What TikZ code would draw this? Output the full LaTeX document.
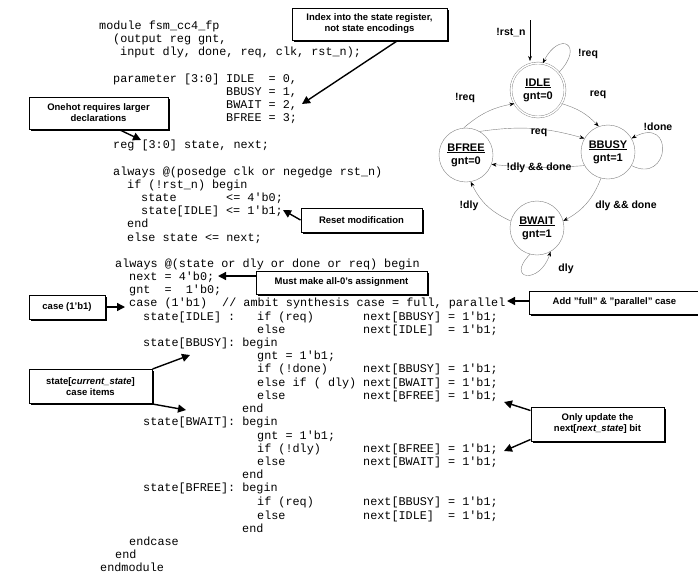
\documentclass[tikz,border=0pt]{standalone}
\usepackage{fontspec}
\setmainfont{Liberation Sans}
\setmonofont{Liberation Mono}
\usetikzlibrary{arrows.meta,shadows}
\begin{document}
\begin{tikzpicture}[x=1pt,y=-1pt,
 code/.style={anchor=base west,inner sep=0pt,font=\fontsize{11.8}{13}\selectfont\ttfamily},
 call/.style={draw,fill=white,line width=1pt,align=center,inner sep=1pt,font=\fontsize{9.5}{11}\selectfont\bfseries,
   drop shadow={shadow xshift=1.5pt,shadow yshift=-1.5pt,fill=black,opacity=1}},
 carr/.style={line width=1.4pt,-{Triangle[length=8pt,width=8pt]}},
 st/.style={circle,draw=gray,minimum size=54pt,inner sep=0pt,align=center,font=\fontsize{11}{13}\selectfont\bfseries},
 tr/.style={draw=gray,-{Stealth[length=5pt,black]}},
 lb/.style={font=\fontsize{10.5}{12}\selectfont\bfseries,inner sep=1pt}]
\useasboundingbox (0,0) rectangle (698,576);
% code
\def\L#1#2#3{\node[code] at (#1,#2+4) {#3};}
\L{99}{25}{module fsm\_cc4\_fp}
\L{113}{38}{(output reg gnt,}
\L{120}{51}{input dly, done, req, clk, rst\_n);}
\L{113}{78}{parameter [3:0]}
\L{226}{78}{IDLE\ \ = 0,}
\L{226}{91}{BBUSY = 1,}
\L{226}{104}{BWAIT = 2,}
\L{226}{117}{BFREE = 3;}
\L{113}{144}{reg [3:0] state, next;}
\L{113}{171}{always @(posedge clk or negedge rst\_n)}
\L{127}{184}{if (!rst\_n) begin}
\L{141}{197}{state}
\L{226}{197}{<= 4'b0;}
\L{141}{210}{state[IDLE] <= 1'b1;}
\L{127}{223}{end}
\L{127}{237}{else state <= next;}
\L{115}{263}{always @(state or dly or done or req) begin}
\L{129}{276}{next = 4'b0;}
\L{129}{289}{gnt\ \ = \ 1'b0;}
\L{129}{302}{case (1'b1)}
\L{222}{302}{// ambit synthesis case = full, parallel}
\L{143}{316}{state[IDLE] :}
\L{257}{316}{if (req)}
\L{363}{316}{next[BBUSY] = 1'b1;}
\L{257}{329}{else}
\L{363}{329}{next[IDLE]\ \ = 1'b1;}
\L{143}{342}{state[BBUSY]: begin}
\L{257}{355}{gnt = 1'b1;}
\L{257}{368}{if (!done)}
\L{363}{368}{next[BBUSY] = 1'b1;}
\L{257}{382}{else if ( dly)}
\L{363}{382}{next[BWAIT] = 1'b1;}
\L{257}{395}{else}
\L{363}{395}{next[BFREE] = 1'b1;}
\L{242}{408}{end}
\L{143}{421}{state[BWAIT]: begin}
\L{257}{435}{gnt = 1'b1;}
\L{257}{448}{if (!dly)}
\L{363}{448}{next[BFREE] = 1'b1;}
\L{257}{461}{else}
\L{363}{461}{next[BWAIT] = 1'b1;}
\L{242}{474}{end}
\L{143}{487}{state[BFREE]: begin}
\L{257}{501}{if (req)}
\L{363}{501}{next[BBUSY] = 1'b1;}
\L{257}{515}{else}
\L{363}{515}{next[IDLE]\ \ = 1'b1;}
\L{242}{528}{end}
\L{129}{541}{endcase}
\L{115}{554}{end}
\L{100}{567}{endmodule}
% callouts
\node[call,minimum width=155pt,minimum height=32pt] (c1) at (369.5,24) {Index into the state register,\\not state encodings};
\coordinate (c1t) at (302,104); \draw[carr] (397,41) -- (c1t);
\node[call,minimum width=139pt,minimum height=32pt] (c2) at (98.5,113) {Onehot requires larger\\declarations};
\coordinate (c2t) at (141,140); \draw[carr] (120,130) -- (c2t);
\node[call,minimum width=121pt,minimum height=24pt] (c3) at (361.5,220) {Reset modification};
\coordinate (c3t) at (283,210); \draw[carr] (c3.west) -- (c3t);
\node[call,minimum width=171pt,minimum height=23pt] (c4) at (341.5,282.5) {Must make all-0's assignment};
\coordinate (c4t) at (218,276); \draw[carr] (c4.west|-c4t) -- (c4t);
\node[call,minimum width=76pt,minimum height=24pt] (c5) at (67,307) {case (1'b1)};
\coordinate (c5t) at (125,307); \draw[carr] (c5.east) -- (c5t);
\node[call,minimum width=170pt,minimum height=23pt] (c6) at (614.5,302.5) {Add "full" \& "parallel" case};
\coordinate (c6t) at (507,301); \draw[carr] (c6.west|-c6t) -- (c6t);
\node[call,minimum width=123pt,minimum height=34pt] (c7) at (90.5,386.5) {state[\textit{current\_state}]\\case items};
\coordinate (c7a) at (190,355); \coordinate (c7b) at (186,410);
\draw[carr] (c7.north east) -- (c7a); \draw[carr] (c7.south east) -- (c7b);
\node[call,minimum width=133pt,minimum height=34pt] (c8) at (597.5,424) {Only update the\\next[\textit{next\_state}] bit};
\coordinate (c8a) at (504,402); \coordinate (c8b) at (504,451);
\draw[carr] (c8.north west) ++(0,4) -- (c8a); \draw[carr] (c8.south west) ++(0,-2) -- (c8b);
% state diagram
\node[st,double,double distance=1.5pt] (idle) at (538,90) {\underline{IDLE}\\gnt=0};
\node[st] (bfree) at (466,155) {\underline{BFREE}\\gnt=0};
\node[st] (bbusy) at (608,152) {\underline{BBUSY}\\gnt=1};
\node[st] (bwait) at (537,228) {\underline{BWAIT}\\gnt=1};
\coordinate (rst) at (530,20);
\draw[-{Stealth[length=5pt]}] (rst) -- (530,61);
\node[lb] at (511,33) {!rst\_n};
\draw[tr] (idle.40) .. controls (585,45) and (560,30) .. (idle.80);
\node[lb] at (588,54) {!req};
\draw[tr] (idle.-30) to[bend left=15] (bbusy.110);
\node[lb] at (598,95) {req};
\draw[tr] (bfree.95) to[bend left=15] (idle.-150);
\node[lb] at (465,98) {!req};
\draw[tr] (bfree.60) to[bend left=12] (bbusy.150);
\node[lb] at (539,133) {req};
\draw[tr] (bbusy.-150) to[bend left=5] (bfree.-20);
\node[lb] at (539,168) {!dly \&\& done};
\draw[tr] (bbusy.-105) to[bend left=20] (bwait.15);
\node[lb] at (626,206) {dly \&\& done};
\draw[tr] (bwait.165) to[bend left=20] (bfree.-80);
\node[lb] at (469,206) {!dly};
\draw[tr] (bbusy.-30) .. controls (670,185) and (675,115) .. (bbusy.30);
\node[lb] at (658,127) {!done};
\draw[tr] (bwait.-105) .. controls (505,280) and (540,285) .. (bwait.-60);
\node[lb] at (566,269) {dly};
\end{tikzpicture}
\end{document}
